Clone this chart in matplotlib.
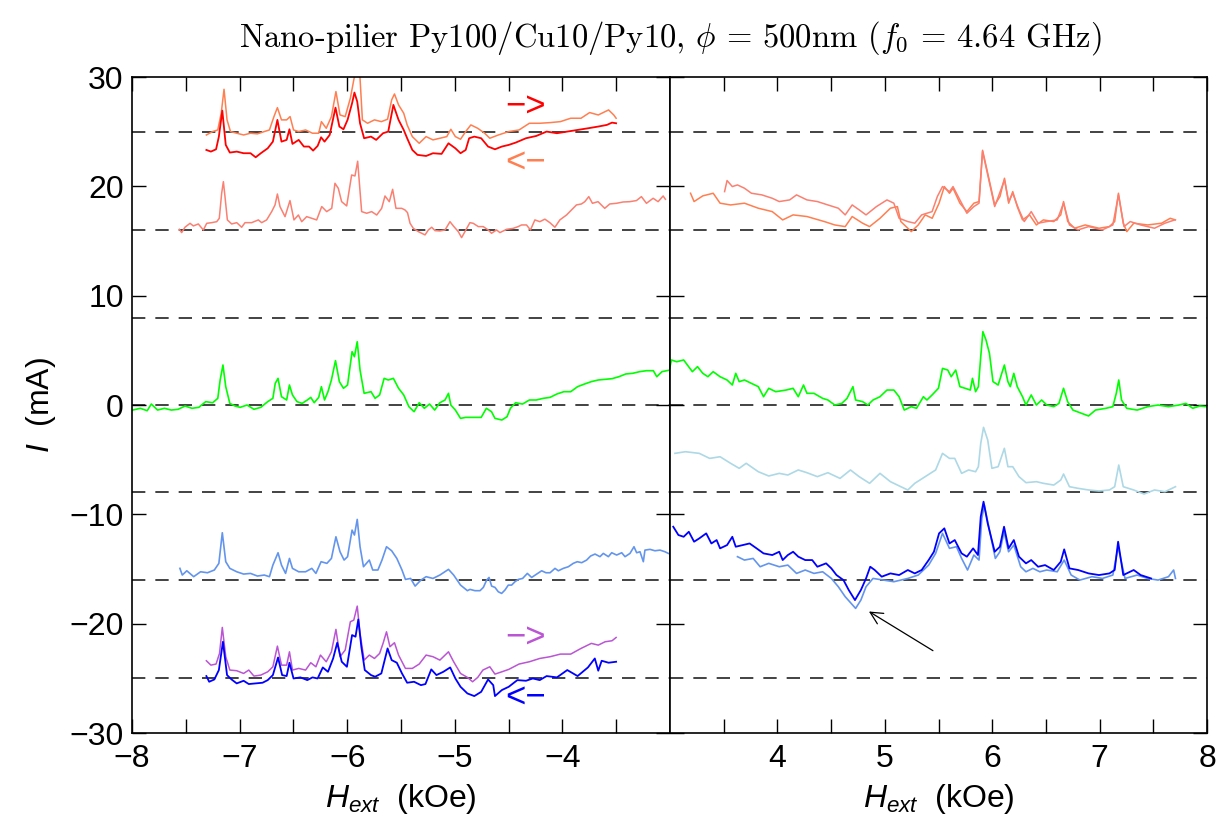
import matplotlib
matplotlib.use('Agg')
import matplotlib.pyplot as plt

plt.rcParams['font.family'] = ['Liberation Sans Narrow', 'Liberation Sans', 'DejaVu Sans']
plt.rcParams['mathtext.fontset'] = 'custom'
plt.rcParams['mathtext.it'] = 'Liberation Sans:italic'
plt.rcParams['mathtext.rm'] = 'Liberation Sans'

# ---- left panel (negative field) ----
l_coral_x = [-7.309, -7.251, -7.203, -7.171, -7.145, -7.117, -7.085, -7.027, -6.963, -6.899, -6.835, -6.771, -6.723,
             -6.681, -6.649, -6.611, -6.563, -6.531, -6.499, -6.451, -6.387, -6.323, -6.265, -6.240, -6.195, -6.147,
             -6.105, -6.067, -6.019, -5.971, -5.939, -5.913, -5.881, -5.859, -5.811, -5.747, -5.683, -5.625, -5.587,
             -5.561, -5.523, -5.475, -5.443, -5.395, -5.331, -5.267, -5.203, -5.139, -5.075, -5.037, -4.995, -4.947,
             -4.899, -4.851, -4.787, -4.723, -4.675, -4.595, -4.499, -4.403, -4.307, -4.211, -4.115, -4.019, -3.923,
             -3.827, -3.747, -3.667, -3.571, -3.523, -3.501]
l_coral_y = [24.70, 25.01, 25.16, 26.69, 28.88, 26.08, 25.01, 24.86, 24.70, 24.86, 24.80, 25.01, 25.16,
             26.38, 27.20, 26.08, 26.08, 26.38, 25.16, 25.01, 25.16, 24.86, 24.86, 25.92, 25.31, 26.38,
             28.67, 26.53, 26.38, 28.06, 29.74, 31.0, 29.89, 26.08, 25.77, 26.08, 25.92, 26.14, 27.91,
             28.45, 27.45, 26.69, 25.62, 24.55, 23.94, 24.55, 24.25, 24.40, 24.55, 25.22, 24.55, 24.31,
             25.01, 25.62, 25.31, 24.86, 24.40, 24.70, 25.01, 25.16, 25.77, 25.77, 25.83, 25.92, 26.23,
             26.23, 26.75, 26.53, 26.99, 26.53, 26.23]

l_red_x = [-7.309, -7.267, -7.219, -7.193, -7.161, -7.129, -7.091, -7.027, -6.963, -6.899, -6.851, -6.803, -6.739,
           -6.691, -6.649, -6.611, -6.563, -6.537, -6.509, -6.451, -6.403, -6.355, -6.317, -6.275, -6.243, -6.211,
           -6.163, -6.109, -6.073, -6.035, -5.997, -5.955, -5.933, -5.907, -5.881, -5.843, -5.779, -5.731, -5.667,
           -5.619, -5.571, -5.523, -5.475, -5.443, -5.395, -5.347, -5.267, -5.203, -5.123, -5.059, -4.995, -4.947,
           -4.899, -4.867, -4.819, -4.755, -4.691, -4.627, -4.563, -4.499, -4.435, -4.339, -4.243, -4.147, -4.051,
           -3.955, -3.859, -3.763, -3.667, -3.587, -3.539, -3.501]
l_red_y = [23.33, 23.18, 23.39, 24.55, 26.93, 23.79, 23.09, 23.18, 23.03, 23.03, 22.66, 23.03, 23.48,
           24.09, 26.08, 24.09, 24.25, 25.22, 23.88, 24.25, 23.64, 23.64, 23.27, 23.70, 24.49, 24.09,
           24.70, 27.20, 25.47, 25.22, 26.08, 27.60, 28.58, 27.75, 25.77, 24.40, 24.55, 24.25, 24.86,
           25.01, 27.45, 26.08, 25.16, 24.40, 23.33, 22.88, 22.78, 23.03, 22.97, 23.94, 23.48, 23.03,
           23.33, 24.40, 24.55, 24.40, 23.64, 23.39, 23.64, 23.79, 24.00, 24.40, 24.61, 25.01, 24.86,
           25.01, 25.16, 25.31, 25.47, 25.62, 25.83, 25.77]

l_salmon_x = [-7.560, -7.539, -7.508, -7.461, -7.430, -7.384, -7.337, -7.306, -7.260, -7.213, -7.189, -7.167, -7.151,
              -7.136, -7.114, -7.074, -7.027, -6.981, -6.950, -6.888, -6.826, -6.795, -6.749, -6.702, -6.671, -6.649,
              -6.625, -6.578, -6.532, -6.495, -6.454, -6.423, -6.377, -6.330, -6.284, -6.237, -6.191, -6.144, -6.114,
              -6.083, -6.052, -6.005, -5.959, -5.928, -5.903, -5.866, -5.819, -5.773, -5.726, -5.680, -5.649, -5.609,
              -5.578, -5.547, -5.494, -5.463, -5.440, -5.416, -5.386, -5.339, -5.308, -5.277, -5.246, -5.215, -5.184,
              -5.138, -5.091, -5.045, -5.014, -4.968, -4.937, -4.906, -4.860, -4.829, -4.782, -4.736, -4.690, -4.659,
              -4.612, -4.581, -4.519, -4.457, -4.411, -4.380, -4.334, -4.297, -4.256, -4.210, -4.163, -4.117, -4.070,
              -4.024, -3.962, -3.916, -3.870, -3.823, -3.792, -3.755, -3.721, -3.669, -3.607, -3.560, -3.498, -3.436,
              -3.374, -3.312, -3.266, -3.219, -3.157, -3.111, -3.064, -3.043]
l_salmon_y = [16.07, 15.77, 16.26, 16.62, 16.38, 16.56, 16.01, 16.62, 16.68, 16.77, 17.08, 19.37, 20.43,
              19.06, 16.93, 16.56, 16.68, 16.26, 16.68, 16.68, 16.93, 16.68, 16.93, 17.69, 18.30, 19.30,
              18.15, 17.23, 18.70, 16.93, 17.38, 16.77, 17.23, 17.08, 16.93, 18.15, 17.69, 17.99, 20.28,
              19.82, 18.60, 18.21, 21.04, 20.95, 22.30, 17.69, 17.54, 17.69, 17.38, 17.99, 19.12, 18.60,
              19.73, 17.99, 17.99, 17.84, 17.60, 16.62, 16.16, 15.86, 15.71, 15.56, 16.01, 16.26, 15.95,
              15.92, 16.01, 16.77, 16.38, 15.86, 15.31, 15.86, 16.68, 16.62, 16.32, 16.32, 16.01, 15.71,
              16.01, 15.77, 16.07, 16.16, 16.32, 16.47, 16.47, 16.01, 16.93, 16.77, 17.00, 16.68, 16.26,
              16.93, 17.38, 17.84, 18.30, 18.39, 18.60, 19.06, 18.45, 18.60, 17.99, 18.39, 18.45, 18.57,
              18.60, 18.70, 19.06, 18.45, 18.91, 18.60, 19.12, 18.82]

l_green_x = [-7.993, -7.923, -7.859, -7.821, -7.763, -7.699, -7.635, -7.571, -7.507, -7.443, -7.379, -7.315, -7.251,
             -7.203, -7.181, -7.155, -7.129, -7.091, -7.043, -6.995, -6.931, -6.867, -6.803, -6.739, -6.691, -6.669,
             -6.643, -6.611, -6.563, -6.537, -6.509, -6.467, -6.419, -6.371, -6.339, -6.307, -6.265, -6.240, -6.211,
             -6.179, -6.147, -6.109, -6.073, -6.035, -5.997, -5.955, -5.933, -5.907, -5.881, -5.843, -5.779, -5.741,
             -5.699, -5.657, -5.619, -5.571, -5.523, -5.475, -5.427, -5.379, -5.331, -5.283, -5.235, -5.187, -5.139,
             -5.091, -5.059, -5.037, -4.995, -4.947, -4.899, -4.819, -4.755, -4.707, -4.659, -4.627, -4.563, -4.515,
             -4.483, -4.435, -4.371, -4.307, -4.243, -4.179, -4.115, -4.051, -3.987, -3.923, -3.859, -3.795, -3.731,
             -3.667, -3.603, -3.539, -3.475, -3.411, -3.347, -3.283, -3.219, -3.155, -3.123, -3.075, -3.001]
l_green_y = [-0.46, -0.30, -0.52, 0.09, -0.46, -0.30, -0.46, -0.39, -0.09, -0.30, -0.21, 0.31, 0.21,
             0.61, 2.29, 3.66, 1.68, 0.15, -0.09, -0.21, 0.00, -0.39, -0.21, 0.31, 0.61, 1.98,
             2.44, 0.76, 0.46, 1.83, 0.92, 0.31, 0.15, 0.46, 0.70, 0.21, 0.70, 1.68, 0.46,
             1.22, 2.29, 4.06, 2.14, 1.53, 1.83, 4.88, 4.42, 5.79, 3.20, 1.07, 1.22, 0.61,
             0.92, 2.44, 2.29, 2.44, 1.53, 0.92, -0.15, -0.61, 0.21, -0.30, 0.09, -0.46, 0.21,
             0.46, 1.07, 0.00, -0.46, -1.22, -1.13, -1.13, -1.13, -0.30, -0.61, -1.22, -1.37, -1.07,
             -0.30, 0.21, 0.09, 0.46, 0.46, 0.61, 0.70, 1.01, 1.22, 1.22, 1.68, 1.92, 2.14,
             2.29, 2.35, 2.41, 2.59, 2.84, 2.90, 3.05, 3.14, 3.14, 2.59, 3.05, 3.20]

l_cfblue_x = [-7.555, -7.533, -7.491, -7.427, -7.363, -7.299, -7.235, -7.193, -7.161, -7.129, -7.091, -7.027, -6.963,
              -6.899, -6.835, -6.771, -6.723, -6.691, -6.643, -6.611, -6.573, -6.537, -6.509, -6.451, -6.387, -6.329,
              -6.291, -6.243, -6.189, -6.147, -6.105, -6.067, -6.029, -5.997, -5.955, -5.933, -5.907, -5.881, -5.849,
              -5.795, -5.763, -5.715, -5.677, -5.635, -5.587, -5.539, -5.491, -5.459, -5.411, -5.369, -5.315, -5.267,
              -5.203, -5.139, -5.059, -5.011, -4.947, -4.883, -4.859, -4.813, -4.766, -4.735, -4.704, -4.682, -4.658,
              -4.627, -4.596, -4.565, -4.534, -4.503, -4.472, -4.441, -4.410, -4.370, -4.326, -4.286, -4.239, -4.193,
              -4.153, -4.115, -4.069, -4.038, -3.992, -3.945, -3.899, -3.862, -3.821, -3.775, -3.738, -3.697, -3.651,
              -3.620, -3.573, -3.542, -3.496, -3.449, -3.418, -3.372, -3.335, -3.310, -3.279, -3.248, -3.233, -3.186,
              -3.140, -3.093, -3.047, -3.016]
l_cfblue_y = [-14.94, -15.55, -15.16, -15.70, -15.25, -15.34, -15.09, -14.48, -11.68, -14.33, -14.94, -15.25, -15.46,
              -15.40, -15.64, -15.55, -15.70, -14.64, -13.51, -14.64, -15.40, -14.03, -14.94, -15.25, -15.25, -14.94,
              -15.40, -14.33, -14.48, -14.03, -12.05, -13.42, -14.18, -13.87, -11.44, -11.89, -10.46, -12.96, -14.79,
              -14.18, -15.09, -15.09, -14.18, -12.96, -13.33, -14.03, -15.09, -15.95, -15.86, -16.56, -16.01, -15.70,
              -15.86, -15.55, -15.03, -15.55, -16.47, -16.98, -16.86, -16.98, -16.98, -16.68, -16.01, -15.77, -16.56,
              -16.68, -17.08, -17.23, -16.92, -16.47, -16.47, -16.16, -15.95, -15.86, -15.40, -15.77, -15.46, -15.16,
              -15.34, -15.34, -14.94, -15.16, -14.94, -14.79, -14.48, -14.33, -14.42, -14.18, -13.81, -13.63, -13.87,
              -13.57, -13.87, -13.51, -13.72, -13.51, -13.87, -13.57, -12.96, -13.51, -13.42, -14.33, -13.27, -13.20,
              -13.33, -13.27, -13.42, -13.57]

l_orchid_x = [-7.309, -7.267, -7.219, -7.187, -7.161, -7.129, -7.091, -7.027, -6.963, -6.915, -6.867, -6.803, -6.739,
              -6.691, -6.649, -6.611, -6.563, -6.537, -6.509, -6.451, -6.387, -6.339, -6.291, -6.249, -6.195, -6.147,
              -6.105, -6.067, -6.019, -5.971, -5.939, -5.907, -5.881, -5.843, -5.795, -5.747, -5.699, -5.667, -5.635,
              -5.603, -5.561, -5.523, -5.459, -5.395, -5.331, -5.267, -5.203, -5.139, -5.059, -5.011, -4.947, -4.883,
              -4.835, -4.787, -4.739, -4.675, -4.627, -4.563, -4.499, -4.403, -4.307, -4.211, -4.115, -4.019, -3.923,
              -3.827, -3.731, -3.667, -3.603, -3.539, -3.501]
l_orchid_y = [-23.39, -23.79, -23.69, -22.72, -20.34, -23.02, -24.24, -24.30, -24.55, -24.24, -24.79, -24.70, -24.40,
              -23.94, -22.05, -23.79, -23.79, -22.57, -24.24, -24.09, -24.24, -23.57, -23.94, -22.87, -23.48, -22.57,
              -20.52, -23.02, -22.41, -19.82, -19.67, -18.39, -20.89, -23.33, -22.87, -23.18, -22.72, -21.80, -20.74,
              -22.11, -21.74, -22.87, -24.09, -24.09, -23.69, -22.87, -23.02, -23.33, -22.57, -23.48, -24.55, -24.91,
              -25.31, -24.91, -24.24, -23.94, -24.61, -24.40, -24.18, -23.69, -23.48, -23.18, -23.02, -22.78, -22.78,
              -22.26, -21.80, -21.96, -21.65, -21.56, -21.26]

l_blue_x = [-7.309, -7.283, -7.235, -7.193, -7.155, -7.117, -7.075, -7.027, -6.963, -6.915, -6.851, -6.787, -6.739,
            -6.691, -6.643, -6.605, -6.563, -6.537, -6.499, -6.435, -6.371, -6.323, -6.275, -6.227, -6.179, -6.131,
            -6.093, -6.051, -6.003, -5.955, -5.923, -5.897, -5.869, -5.837, -5.779, -5.741, -5.683, -5.625, -5.587,
            -5.539, -5.491, -5.443, -5.379, -5.315, -5.273, -5.219, -5.171, -5.107, -5.043, -4.995, -4.947, -4.883,
            -4.819, -4.755, -4.691, -4.643, -4.627, -4.563, -4.499, -4.419, -4.339, -4.275, -4.211, -4.147, -4.051,
            -3.955, -3.859, -3.763, -3.699, -3.667, -3.635, -3.571, -3.501]
l_blue_y = [-24.79, -25.31, -25.10, -24.24, -21.65, -24.70, -25.10, -25.46, -25.22, -25.52, -25.46, -25.40, -25.16,
            -24.70, -23.09, -24.70, -24.79, -23.57, -25.01, -24.91, -25.16, -24.91, -25.01, -24.00, -24.40, -23.18,
            -21.74, -23.48, -23.94, -21.04, -21.19, -19.61, -22.11, -24.24, -24.70, -24.85, -24.55, -22.26, -23.33,
            -23.57, -24.55, -25.40, -25.31, -25.62, -25.52, -24.18, -24.70, -24.40, -24.00, -25.01, -25.77, -26.38,
            -26.62, -26.23, -25.10, -25.62, -26.62, -26.07, -25.77, -25.16, -25.22, -25.01, -25.16, -24.79, -24.91,
            -24.24, -24.79, -24.00, -23.18, -24.30, -23.39, -23.57, -23.48]

# ---- right panel (positive field) ----
r_coral_x = [3.191, 3.224, 3.305, 3.402, 3.466, 3.564, 3.693, 3.822, 3.952, 4.049, 4.146, 4.275, 4.437, 4.534, 4.631,
             4.696, 4.793, 4.858, 4.955, 5.052, 5.117, 5.149, 5.214, 5.246, 5.311, 5.376, 5.441, 5.505, 5.554, 5.602,
             5.635, 5.699, 5.764, 5.829, 5.877, 5.910, 5.958, 6.023, 6.072, 6.114, 6.153, 6.191, 6.233, 6.282, 6.347,
             6.411, 6.476, 6.573, 6.638, 6.664, 6.703, 6.767, 6.865, 6.994, 7.091, 7.140, 7.175, 7.220, 7.253, 7.318,
             7.447, 7.577, 7.657, 7.706]
r_coral_y = [19.37, 18.61, 19.13, 19.37, 18.46, 18.30, 18.46, 18.00, 17.69, 16.93, 17.39, 17.24, 16.78, 16.47, 16.32,
             17.24, 16.63, 16.32, 17.08, 18.00, 18.15, 16.78, 16.17, 15.86, 16.47, 17.39, 17.08, 18.46, 19.98, 19.37,
             19.83, 18.46, 17.69, 18.46, 18.61, 23.30, 21.20, 18.30, 19.07, 20.74, 18.46, 19.52, 18.15, 16.93, 17.39,
             16.47, 16.93, 16.78, 17.39, 18.61, 16.78, 16.17, 16.47, 16.17, 16.32, 16.78, 19.37, 16.63, 15.86, 16.63,
             16.47, 16.63, 17.08, 16.93]

r_salmon_x = [3.508, 3.531, 3.580, 3.628, 3.693, 3.758, 3.855, 3.952, 4.017, 4.114, 4.178, 4.275, 4.372, 4.470, 4.567,
              4.631, 4.696, 4.761, 4.825, 4.922, 5.020, 5.084, 5.133, 5.214, 5.279, 5.343, 5.440, 5.489, 5.537, 5.602,
              5.635, 5.699, 5.764, 5.829, 5.877, 5.910, 5.958, 6.023, 6.114, 6.153, 6.191, 6.249, 6.298, 6.363, 6.427,
              6.508, 6.605, 6.664, 6.719, 6.800, 6.897, 7.026, 7.123, 7.175, 7.227, 7.285, 7.382, 7.511, 7.608, 7.699]
r_salmon_y = [19.52, 20.53, 19.98, 20.13, 19.83, 19.37, 19.22, 18.91, 18.61, 18.76, 19.22, 18.76, 18.61, 18.30, 18.00,
              17.39, 18.30, 17.85, 17.39, 18.15, 18.76, 18.46, 17.08, 16.78, 16.63, 17.39, 17.69, 19.07, 19.98, 19.52,
              19.98, 18.76, 17.54, 18.15, 18.46, 23.20, 21.05, 18.15, 20.59, 18.61, 19.37, 17.85, 16.78, 17.69, 16.63,
              16.78, 16.93, 18.46, 16.47, 16.02, 16.32, 16.02, 16.47, 19.22, 16.32, 16.78, 16.47, 16.17, 16.63, 16.93]

r_green_x = [2.997, 3.013, 3.062, 3.127, 3.208, 3.256, 3.305, 3.353, 3.402, 3.466, 3.531, 3.580, 3.612, 3.644, 3.693,
             3.758, 3.822, 3.871, 3.919, 3.984, 4.081, 4.146, 4.194, 4.243, 4.275, 4.340, 4.421, 4.470, 4.534, 4.599,
             4.648, 4.703, 4.728, 4.793, 4.842, 4.890, 4.955, 5.020, 5.084, 5.133, 5.181, 5.246, 5.295, 5.359, 5.392,
             5.440, 5.499, 5.537, 5.586, 5.618, 5.660, 5.699, 5.748, 5.796, 5.816, 5.845, 5.871, 5.893, 5.913, 5.942,
             5.974, 6.007, 6.055, 6.113, 6.146, 6.168, 6.201, 6.233, 6.282, 6.314, 6.363, 6.411, 6.460, 6.508, 6.573,
             6.621, 6.664, 6.702, 6.751, 6.832, 6.897, 6.961, 7.058, 7.123, 7.155, 7.178, 7.204, 7.252, 7.350, 7.447,
             7.544, 7.641, 7.738, 7.803, 7.867, 7.932, 7.997]
r_green_y = [3.35, 4.12, 3.96, 4.12, 3.05, 3.51, 2.90, 2.59, 3.05, 2.59, 2.29, 1.83, 2.90, 2.14, 2.29,
             1.98, 1.68, 0.76, 1.53, 1.22, 1.37, 1.53, 0.76, 1.83, 1.07, 1.07, 0.61, 0.46, 0.00, 0.15,
             0.61, 1.68, 0.46, 0.31, 0.00, 0.46, 0.76, 1.37, 1.37, 0.76, -0.46, -0.15, -0.30, 0.76, 0.46,
             0.92, 1.53, 3.35, 3.20, 2.59, 3.20, 1.68, 1.53, 1.37, 2.44, 1.22, 1.68, 4.42, 6.71, 5.95,
             4.73, 2.14, 1.83, 3.66, 2.14, 1.68, 2.90, 1.68, 0.76, 0.00, 0.92, 0.00, 0.46, 0.00, -0.15,
             0.15, 1.53, 0.31, -0.46, -0.76, -1.00, -0.46, -0.30, -0.15, 1.07, 2.29, 0.46, -0.30, -0.46, -0.15,
             0.00, -0.15, 0.00, 0.15, -0.30, -0.09, -0.15]

r_lblue_x = [3.046, 3.143, 3.272, 3.369, 3.466, 3.564, 3.644, 3.709, 3.822, 3.919, 4.017, 4.097, 4.194, 4.275, 4.372,
             4.470, 4.583, 4.680, 4.761, 4.858, 4.955, 5.052, 5.149, 5.214, 5.279, 5.376, 5.473, 5.537, 5.602, 5.651,
             5.715, 5.780, 5.845, 5.871, 5.893, 5.919, 5.958, 5.997, 6.055, 6.113, 6.146, 6.191, 6.249, 6.314, 6.411,
             6.476, 6.573, 6.638, 6.664, 6.719, 6.800, 6.897, 6.994, 7.091, 7.140, 7.178, 7.220, 7.317, 7.414, 7.511,
             7.608, 7.706]
r_lblue_y = [-4.42, -4.27, -4.42, -4.88, -4.73, -5.33, -5.79, -5.33, -6.10, -6.49, -6.25, -6.40, -5.94, -6.19, -6.55,
             -6.19, -6.71, -5.94, -6.55, -7.16, -6.25, -7.01, -7.47, -7.77, -7.16, -6.55, -5.94, -4.42, -4.88, -4.88,
             -6.25, -5.94, -6.10, -5.64, -3.51, -2.04, -3.20, -5.79, -5.64, -3.96, -5.64, -5.64, -6.55, -7.10, -7.01,
             -7.16, -7.32, -6.86, -6.31, -7.47, -7.62, -7.77, -7.86, -7.77, -7.47, -5.49, -7.47, -7.77, -8.14, -7.77,
             -7.93, -7.47]

r_blue_x = [3.030, 3.078, 3.127, 3.175, 3.224, 3.272, 3.337, 3.385, 3.434, 3.466, 3.531, 3.580, 3.612, 3.677, 3.741,
            3.806, 3.871, 3.952, 4.017, 4.049, 4.097, 4.146, 4.194, 4.259, 4.324, 4.372, 4.453, 4.502, 4.550, 4.615,
            4.664, 4.722, 4.777, 4.825, 4.864, 4.906, 4.971, 5.052, 5.133, 5.214, 5.279, 5.343, 5.408, 5.457, 5.505,
            5.554, 5.602, 5.651, 5.715, 5.764, 5.822, 5.867, 5.893, 5.919, 5.958, 6.023, 6.071, 6.110, 6.152, 6.201,
            6.249, 6.314, 6.363, 6.427, 6.492, 6.573, 6.638, 6.670, 6.719, 6.800, 6.897, 6.994, 7.091, 7.140, 7.172,
            7.220, 7.317, 7.382, 7.479]
r_blue_y = [-11.13, -11.89, -12.05, -11.59, -12.50, -12.20, -11.74, -12.66, -12.35, -13.11, -12.81, -12.05, -12.96,
            -12.81, -12.66, -13.11, -13.57, -13.72, -13.42, -14.18, -13.72, -13.42, -13.87, -14.18, -14.18, -14.79,
            -14.48, -14.94, -15.55, -16.01, -16.92, -17.84, -16.92, -15.86, -14.79, -15.09, -15.70, -15.40, -15.55,
            -15.09, -15.40, -15.09, -14.18, -13.42, -11.74, -11.28, -12.66, -12.35, -13.57, -13.87, -13.11, -13.72,
            -10.22, -8.84, -10.83, -13.42, -12.96, -11.13, -13.11, -12.35, -13.87, -14.48, -14.18, -14.79, -14.64,
            -15.09, -14.33, -13.20, -14.94, -15.09, -15.40, -15.55, -15.40, -15.09, -12.50, -15.55, -15.09, -15.55,
            -15.86]

r_cfblue_x = [3.628, 3.693, 3.774, 3.839, 3.919, 4.017, 4.097, 4.178, 4.259, 4.340, 4.421, 4.502, 4.567, 4.631, 4.728,
              4.777, 4.825, 4.890, 4.987, 5.084, 5.214, 5.311, 5.408, 5.473, 5.537, 5.602, 5.667, 5.715, 5.770, 5.829,
              5.877, 5.903, 5.926, 5.974, 6.029, 6.071, 6.110, 6.152, 6.201, 6.265, 6.314, 6.379, 6.443, 6.508, 6.605,
              6.670, 6.735, 6.816, 6.929, 7.026, 7.123, 7.172, 7.236, 7.350, 7.447, 7.544, 7.641, 7.689, 7.706]
r_cfblue_y = [-13.87, -14.18, -14.03, -14.79, -14.48, -14.79, -14.64, -15.40, -15.09, -15.40, -15.25, -15.86, -16.62,
              -17.53, -18.60, -17.84, -16.62, -15.86, -16.01, -16.16, -15.86, -15.55, -14.64, -13.57, -11.74, -13.11,
              -12.96, -14.03, -15.09, -13.72, -14.18, -10.37, -9.15, -11.44, -14.03, -13.42, -11.59, -13.42, -12.81,
              -14.79, -15.25, -14.94, -15.25, -15.09, -15.25, -14.18, -15.55, -16.01, -15.70, -15.86, -15.55, -12.96,
              -15.86, -15.55, -15.86, -16.01, -15.70, -15.09, -15.86]

baselines = [25, 16, 8, 0, -8, -16, -25]
arrow_tail = (5.47, -22.6)
arrow_head = (4.83, -18.75)

fig = plt.figure(figsize=(12.18, 8.39), dpi=100)
axl = fig.add_axes([0.1084, 0.1263, 0.4417, 0.7819])
axr = fig.add_axes([0.5501, 0.1263, 0.4409, 0.7819])

for ax in (axl, axr):
    for b in baselines:
        ax.axhline(b, color='#222222', lw=1.2, dashes=(8, 6), zorder=1)

# left
axl.plot(l_salmon_x, l_salmon_y, color='#FA8072', lw=1.1)
axl.plot(l_coral_x, l_coral_y, color='#FF7F50', lw=1.1)
axl.plot(l_red_x, l_red_y, color='#FF0000', lw=1.3)
axl.plot(l_green_x, l_green_y, color='#00FF00', lw=1.2)
axl.plot(l_cfblue_x, l_cfblue_y, color='#6495ED', lw=1.2)
axl.plot(l_orchid_x, l_orchid_y, color='#BA55D3', lw=1.1)
axl.plot(l_blue_x, l_blue_y, color='#0000FF', lw=1.3)

axl.text(-4.34, 27.3, '\u2212>', color='#FF0000', fontsize=25, ha='center', va='center')
axl.text(-4.34, 22.2, '<\u2212', color='#FF7F50', fontsize=25, ha='center', va='center')
axl.text(-4.34, -21.2, '\u2212>', color='#BA55D3', fontsize=25, ha='center', va='center')
axl.text(-4.34, -26.7, '<\u2212', color='#0000FF', fontsize=25, ha='center', va='center')

# right
axr.plot(r_coral_x, r_coral_y, color='#FF7F50', lw=1.1)
axr.plot(r_salmon_x, r_salmon_y, color='#FA8072', lw=1.1)
axr.plot(r_green_x, r_green_y, color='#00FF00', lw=1.2)
axr.plot(r_lblue_x, r_lblue_y, color='#ADD8E6', lw=1.2)
axr.plot(r_cfblue_x, r_cfblue_y, color='#6495ED', lw=1.2)
axr.plot(r_blue_x, r_blue_y, color='#0000FF', lw=1.3)
axr.annotate('', xy=arrow_head, xytext=arrow_tail,
             arrowprops=dict(arrowstyle='->', color='k', lw=0.9, mutation_scale=22))

axl.set_xlim(-8, -3)
axr.set_xlim(3, 8)
for ax in (axl, axr):
    ax.set_ylim(-30, 30)
    ax.set_yticks([-30, -20, -10, 0, 10, 20, 30])
    ax.tick_params(direction='in', which='both', top=True, right=True, length=10, width=1, labelsize=23, pad=8)
    ax.tick_params(axis='y', pad=6)
    for s in ax.spines.values():
        s.set_linewidth(1.2)
axl.set_xticks([-8, -7, -6, -5, -4])
axl.set_xticks([-7.5, -6.5, -5.5, -4.5, -3.5], minor=True)
axr.set_xticks([4, 5, 6, 7, 8])
axr.set_xticks([3.5, 4.5, 5.5, 6.5, 7.5], minor=True)
axr.tick_params(labelleft=False)

axl.set_xlabel(r'$H_{ext}$  (kOe)', fontsize=23, labelpad=6)
axr.set_xlabel(r'$H_{ext}$  (kOe)', fontsize=23, labelpad=6)
axl.set_ylabel(r'$I$  (mA)', fontsize=23, labelpad=8)

fig.text(0.55, 0.955, r'Nano-pilier Py100/Cu10/Py10, $\phi$ = 500nm ($f_0$ = 4.64 GHz)',
         ha='center', va='center', fontsize=23.5, family='cmr10', math_fontfamily='cm')

fig.savefig('out.png', dpi=100)
